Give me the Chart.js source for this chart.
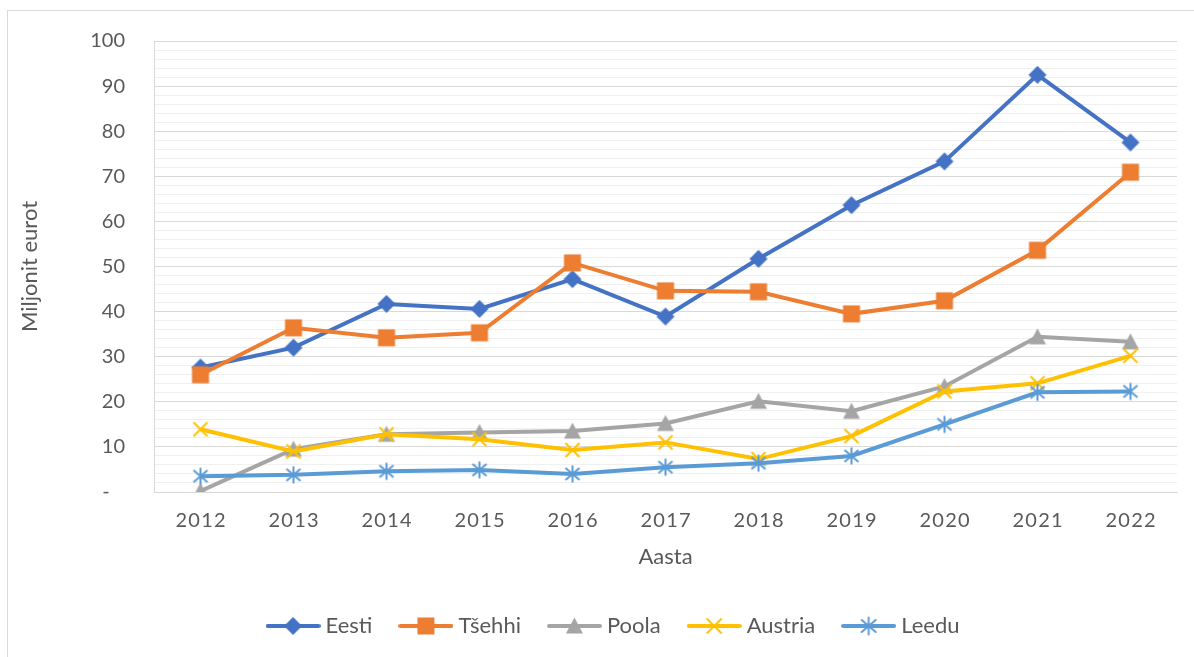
<!DOCTYPE html>
<html>
<head>
<meta charset="utf-8">
<script src="https://cdn.jsdelivr.net/npm/chart.js@4.4.0/dist/chart.umd.min.js"></script>
<style>
  html, body { margin: 0; padding: 0; background: #fff; overflow: hidden; }
  #wrap { position: relative; width: 1194px; height: 657px; overflow: hidden; }
  #frame { position: absolute; left: 7px; top: 10px; width: 1186px; height: 700px;
           border-top: 1px solid #d9d9d9; border-left: 1px solid #d9d9d9; }
  #myChart { position: absolute; left: 0; top: 0; }
</style>
</head>
<body>
<div id="wrap">
  <div id="frame"></div>
  <canvas id="myChart" width="1194" height="657"></canvas>
</div>
<script>
let years = ['2012', '2013', '2014', '2015', '2016', '2017', '2018', '2019', '2020', '2021', '2022'];
let eesti = [27.6, 32.0, 41.7, 40.6, 47.2, 38.9, 51.7, 63.6, 73.3, 92.5, 77.5];
let tsehhi = [26.0, 36.4, 34.2, 35.3, 50.8, 44.6, 44.4, 39.5, 42.4, 53.6, 70.9];
let poola = [0.2, 9.5, 12.8, 13.2, 13.5, 15.2, 20.1, 17.9, 23.4, 34.4, 33.3];
let austria = [13.9, 9.0, 12.8, 11.7, 9.3, 11.0, 7.3, 12.4, 22.3, 24.1, 30.2];
let leedu = [3.5, 3.8, 4.6, 4.9, 4.0, 5.5, 6.4, 8.0, 15.0, 22.1, 22.3];

let names = ['Eesti', 'Tšehhi', 'Poola', 'Austria', 'Leedu'];
let colors = ['#4472C4', '#ED7D31', '#A5A5A5', '#FFC000', '#5B9BD5'];
let markers = ['diamond', 'square', 'triangle', 'x', 'star'];
let series = [eesti, tsehhi, poola, austria, leedu];

// Excel-like markers drawn on small canvases
function drawMarker(ctx, kind, cx, cy, color) {
    ctx.fillStyle = color;
    ctx.strokeStyle = color;
    ctx.lineWidth = 2;
    ctx.beginPath();
    if (kind === 'diamond') {
        ctx.moveTo(cx, cy - 9);
        ctx.lineTo(cx + 9, cy);
        ctx.lineTo(cx, cy + 9);
        ctx.lineTo(cx - 9, cy);
        ctx.closePath();
        ctx.fill();
    } else if (kind === 'square') {
        ctx.rect(cx - 8.5, cy - 8.5, 17, 17);
        ctx.fill();
    } else if (kind === 'triangle') {
        ctx.moveTo(cx, cy - 8.5);
        ctx.lineTo(cx + 8.5, cy + 7.5);
        ctx.lineTo(cx - 8.5, cy + 7.5);
        ctx.closePath();
        ctx.fill();
    } else if (kind === 'x') {
        ctx.moveTo(cx - 7, cy - 7); ctx.lineTo(cx + 7, cy + 7);
        ctx.moveTo(cx + 7, cy - 7); ctx.lineTo(cx - 7, cy + 7);
        ctx.stroke();
    } else if (kind === 'star') {
        ctx.moveTo(cx - 7, cy - 6); ctx.lineTo(cx + 7, cy + 6);
        ctx.moveTo(cx + 7, cy - 6); ctx.lineTo(cx - 7, cy + 6);
        ctx.moveTo(cx, cy - 8.5); ctx.lineTo(cx, cy + 8.5);
        ctx.stroke();
    }
}

function markerImage(kind, color) {
    let c = document.createElement('canvas');
    c.width = 22; c.height = 22;
    drawMarker(c.getContext('2d'), kind, 11, 11, color);
    return c;
}

function legendImage(kind, color) {
    let c = document.createElement('canvas');
    c.width = 55; c.height = 22;
    let ctx = c.getContext('2d');
    ctx.strokeStyle = color;
    ctx.lineWidth = 4;
    ctx.lineCap = 'round';
    ctx.beginPath();
    ctx.moveTo(2, 11); ctx.lineTo(53, 11);
    ctx.stroke();
    drawMarker(ctx, kind, 27.5, 11, color);
    return c;
}

let legendImgs = markers.map((m, i) => legendImage(m, colors[i]));

let datasets = series.map((data, i) => ({
    label: names[i],
    data: data,
    borderColor: colors[i],
    backgroundColor: colors[i],
    borderWidth: 4,
    pointStyle: markerImage(markers[i], colors[i]),
    pointRadius: 9,
    pointHoverRadius: 9,
    order: series.length - i,
    tension: 0
}));

// nudge the legend sideways, the Excel legend isn't centred on the canvas
let legendShift = {
    id: 'legendShift',
    afterLayout: (c) => {
        c.legend.left += 27;
        c.legend.right += 27;
    }
};

Chart.defaults.font.family = 'Lato, "Noto Sans", sans-serif';
Chart.defaults.font.size = 20;
Chart.defaults.color = '#595959';

let myChart = document.getElementById('myChart').getContext('2d');

let chart = new Chart(myChart, {
    type: 'line',
    data: {
        labels: years,
        datasets: datasets
    },
    plugins: [legendShift],
    options: {
        responsive: false,
        animation: false,
        layout: {
            padding: { top: 39, right: 17, bottom: 10, left: 0 }
        },
        plugins: {
            tooltip: { enabled: false },
            legend: {
                position: 'bottom',
                labels: {
                    usePointStyle: true,
                    pointStyleWidth: 43,
                    padding: 32,
                    color: '#595959',
                    font: { size: 22 },
                    sort: (a, b) => a.datasetIndex - b.datasetIndex,
                    generateLabels: (c) => {
                        let items = Chart.defaults.plugins.legend.labels.generateLabels(c);
                        items.forEach(it => { it.pointStyle = legendImgs[it.datasetIndex]; });
                        return items;
                    }
                }
            }
        },
        scales: {
            x: {
                offset: true,
                grid: { display: false, drawTicks: false },
                border: { display: true, color: '#d9d9d9' },
                ticks: {
                    padding: 17,
                    color: '#595959',
                    font: { size: 20 },
                    callback: function (v) { return this.getLabelForValue(v).split('').join('\u200A'); }
                },
                title: {
                    display: true,
                    text: 'Aasta',
                    color: '#595959',
                    font: { size: 22 },
                    padding: { top: 0, bottom: 13 }
                },
                afterFit: (s) => { s.height = 91; }
            },
            y: {
                min: 0,
                max: 100,
                grid: {
                    drawTicks: false,
                    color: (ctx) => (ctx.tick && ctx.tick.value % 10 === 0) ? '#d9d9d9' : '#f0f0f0',
                    lineWidth: 1
                },
                border: { display: true, color: '#d9d9d9' },
                ticks: {
                    stepSize: 2,
                    autoSkip: false,
                    padding: 29,
                    color: '#595959',
                    font: { size: 20 },
                    callback: (v) => v % 10 === 0 ? (v === 0 ? '-   ' : String(v)) : ''
                },
                title: {
                    display: true,
                    text: 'Miljonit eurot',
                    color: '#595959',
                    font: { size: 22 },
                    padding: { top: 17, bottom: 0 }
                },
                afterFit: (s) => { s.width = 154; }
            }
        }
    }
});
</script>
</body>
</html>
